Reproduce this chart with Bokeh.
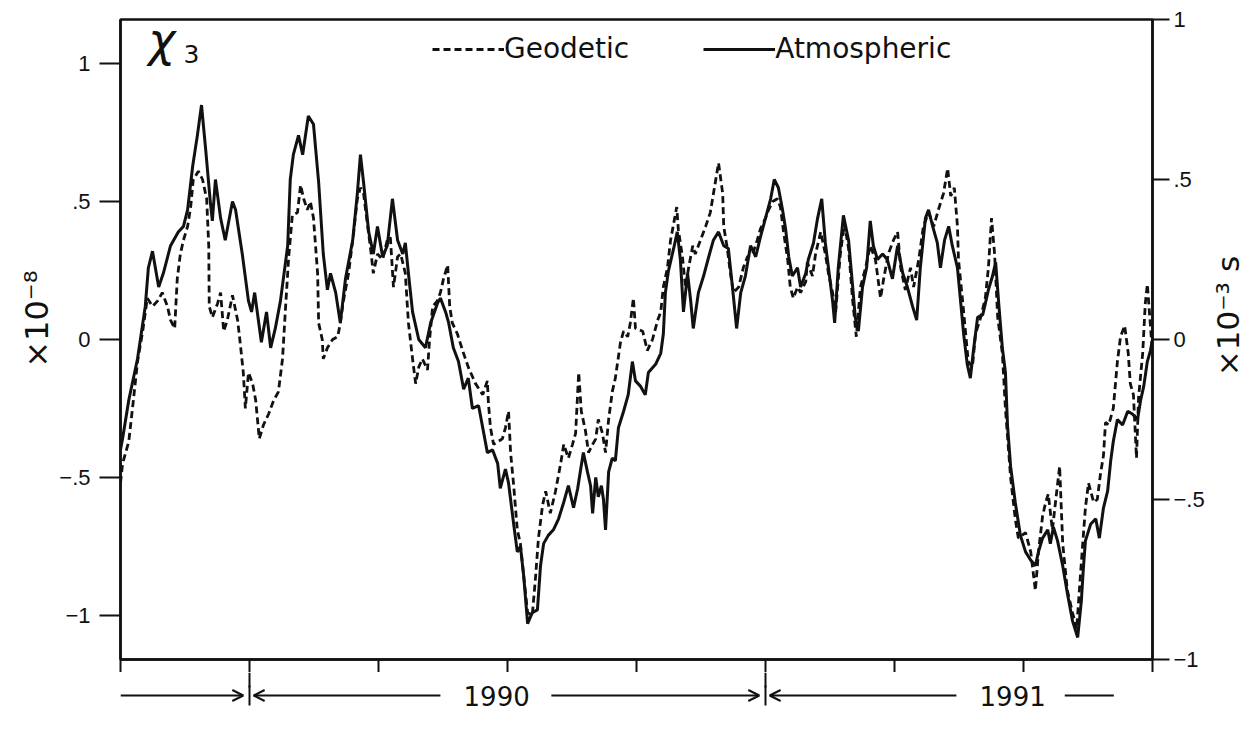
import math
from bokeh.plotting import figure
from bokeh.models import (Range1d, LinearAxis, FixedTicker, Legend, LegendItem,
                          Label, Arrow, OpenHead)
from bokeh.layouts import column, row
from bokeh.core.properties import value
from bokeh.embed import file_html
from bokeh.resources import INLINE

# ---------------- data (decimal years) ----------------
atm_t = [
    1989.750, 1989.754, 1989.766, 1989.783, 1989.798, 1989.804, 1989.812, 1989.824, 1989.833, 1989.847,
    1989.862, 1989.872, 1989.880, 1989.890, 1989.899, 1989.907, 1989.915, 1989.924, 1989.928, 1989.934,
    1989.944, 1989.953, 1989.967, 1989.973, 1989.986, 1989.998, 1990.004, 1990.010, 1990.023, 1990.033,
    1990.041, 1990.050, 1990.060, 1990.074, 1990.079, 1990.085, 1990.095, 1990.103, 1990.114, 1990.124,
    1990.134, 1990.143, 1990.151, 1990.157, 1990.167, 1990.176, 1990.186, 1990.200, 1990.209, 1990.215,
    1990.221, 1990.231, 1990.240, 1990.248, 1990.258, 1990.267, 1990.277, 1990.287, 1990.297, 1990.302,
    1990.308, 1990.316, 1990.328, 1990.341, 1990.351, 1990.364, 1990.370, 1990.380, 1990.386, 1990.395,
    1990.405, 1990.415, 1990.424, 1990.432, 1990.444, 1990.452, 1990.461, 1990.471, 1990.481, 1990.486,
    1990.496, 1990.502, 1990.512, 1990.519, 1990.525, 1990.531, 1990.539, 1990.548, 1990.558, 1990.564,
    1990.570, 1990.579, 1990.589, 1990.599, 1990.609, 1990.618, 1990.628, 1990.636, 1990.641, 1990.647,
    1990.655, 1990.661, 1990.665, 1990.671, 1990.676, 1990.682, 1990.686, 1990.690, 1990.696, 1990.703,
    1990.709, 1990.715, 1990.725, 1990.734, 1990.742, 1990.748, 1990.758, 1990.767, 1990.773, 1990.787,
    1990.797, 1990.802, 1990.806, 1990.812, 1990.822, 1990.829, 1990.835, 1990.841, 1990.849, 1990.855,
    1990.860, 1990.870, 1990.880, 1990.890, 1990.899, 1990.909, 1990.919, 1990.928, 1990.936, 1990.944,
    1990.952, 1990.961, 1990.971, 1990.981, 1990.990, 1991.000, 1991.010, 1991.017, 1991.025, 1991.033,
    1991.039, 1991.045, 1991.052, 1991.062, 1991.068, 1991.078, 1991.083, 1991.093, 1991.101, 1991.109,
    1991.116, 1991.122, 1991.130, 1991.134, 1991.141, 1991.151, 1991.161, 1991.169, 1991.174, 1991.180,
    1991.188, 1991.196, 1991.203, 1991.209, 1991.217, 1991.227, 1991.236, 1991.246, 1991.256, 1991.266,
    1991.275, 1991.285, 1991.293, 1991.300, 1991.310, 1991.316, 1991.324, 1991.333, 1991.339, 1991.347,
    1991.355, 1991.362, 1991.372, 1991.378, 1991.384, 1991.391, 1991.397, 1991.403, 1991.411, 1991.421,
    1991.426, 1991.432, 1991.440, 1991.446, 1991.452, 1991.459, 1991.465, 1991.469, 1991.475, 1991.484,
    1991.494, 1991.504, 1991.514, 1991.523, 1991.529, 1991.537, 1991.547, 1991.552, 1991.558, 1991.566,
    1991.576, 1991.585, 1991.595, 1991.605, 1991.612, 1991.616, 1991.620, 1991.630, 1991.640, 1991.647,
    1991.655, 1991.663, 1991.669, 1991.674, 1991.682, 1991.692, 1991.702, 1991.711, 1991.721, 1991.727,
    1991.733, 1991.740, 1991.746, 1991.750,
]
atm_v = [
    -0.40, -0.36, -0.22, -0.07, 0.12, 0.26, 0.32, 0.19, 0.24, 0.34,
    0.39, 0.41, 0.47, 0.63, 0.74, 0.85, 0.69, 0.50, 0.43, 0.58,
    0.44, 0.36, 0.50, 0.47, 0.31, 0.14, 0.10, 0.17, -0.01, 0.10,
    -0.03, 0.04, 0.14, 0.34, 0.58, 0.67, 0.74, 0.67, 0.81, 0.78,
    0.57, 0.31, 0.18, 0.24, 0.17, 0.06, 0.22, 0.36, 0.53, 0.67,
    0.57, 0.39, 0.31, 0.41, 0.30, 0.34, 0.51, 0.36, 0.31, 0.35,
    0.24, 0.10, 0.00, -0.03, 0.06, 0.13, 0.15, 0.10, 0.06, -0.03,
    -0.08, -0.18, -0.14, -0.25, -0.24, -0.32, -0.41, -0.40, -0.45, -0.54,
    -0.47, -0.52, -0.67, -0.77, -0.75, -0.85, -1.03, -0.99, -0.98, -0.82,
    -0.74, -0.71, -0.69, -0.65, -0.59, -0.53, -0.61, -0.54, -0.48, -0.41,
    -0.48, -0.53, -0.63, -0.50, -0.57, -0.53, -0.58, -0.69, -0.48, -0.43,
    -0.44, -0.32, -0.26, -0.20, -0.08, -0.15, -0.17, -0.20, -0.12, -0.09,
    -0.05, 0.02, 0.17, 0.25, 0.33, 0.39, 0.29, 0.10, 0.24, 0.14,
    0.04, 0.17, 0.23, 0.30, 0.36, 0.39, 0.34, 0.33, 0.19, 0.04,
    0.17, 0.23, 0.34, 0.30, 0.37, 0.44, 0.51, 0.58, 0.55, 0.47,
    0.40, 0.30, 0.23, 0.26, 0.19, 0.24, 0.29, 0.35, 0.44, 0.51,
    0.35, 0.26, 0.14, 0.06, 0.26, 0.45, 0.36, 0.19, 0.08, 0.03,
    0.19, 0.26, 0.43, 0.34, 0.29, 0.31, 0.29, 0.22, 0.34, 0.24,
    0.19, 0.12, 0.07, 0.26, 0.44, 0.47, 0.41, 0.35, 0.26, 0.36,
    0.41, 0.34, 0.26, 0.14, 0.02, -0.09, -0.14, -0.04, 0.08, 0.09,
    0.13, 0.18, 0.23, 0.28, 0.13, -0.03, -0.12, -0.31, -0.46, -0.59,
    -0.71, -0.77, -0.80, -0.82, -0.77, -0.72, -0.69, -0.74, -0.68, -0.73,
    -0.82, -0.92, -1.02, -1.08, -0.95, -0.83, -0.73, -0.67, -0.65, -0.72,
    -0.61, -0.55, -0.44, -0.37, -0.29, -0.31, -0.26, -0.27, -0.29, -0.22,
    -0.17, -0.08, -0.04, 0.00,
]

geo_t = [
    1989.750, 1989.754, 1989.766, 1989.775, 1989.783, 1989.793, 1989.802, 1989.812, 1989.822, 1989.831,
    1989.841, 1989.847, 1989.855, 1989.860, 1989.866, 1989.872, 1989.880, 1989.886, 1989.891, 1989.901,
    1989.909, 1989.917, 1989.921, 1989.922, 1989.928, 1989.938, 1989.944, 1989.950, 1989.957, 1989.967,
    1989.977, 1989.983, 1989.988, 1989.992, 1989.998, 1990.006, 1990.012, 1990.019, 1990.027, 1990.037,
    1990.047, 1990.056, 1990.064, 1990.070, 1990.076, 1990.083, 1990.093, 1990.099, 1990.105, 1990.112,
    1990.118, 1990.124, 1990.132, 1990.134, 1990.141, 1990.143, 1990.151, 1990.161, 1990.171, 1990.176,
    1990.182, 1990.192, 1990.202, 1990.209, 1990.215, 1990.221, 1990.229, 1990.234, 1990.240, 1990.248,
    1990.258, 1990.267, 1990.273, 1990.279, 1990.287, 1990.293, 1990.302, 1990.308, 1990.316, 1990.322,
    1990.328, 1990.335, 1990.345, 1990.349, 1990.355, 1990.364, 1990.370, 1990.376, 1990.384, 1990.388,
    1990.393, 1990.403, 1990.413, 1990.424, 1990.438, 1990.452, 1990.461, 1990.463, 1990.467, 1990.473,
    1990.490, 1990.496, 1990.502, 1990.506, 1990.512, 1990.519, 1990.525, 1990.531, 1990.539, 1990.548,
    1990.554, 1990.560, 1990.568, 1990.574, 1990.583, 1990.593, 1990.603, 1990.609, 1990.618, 1990.626,
    1990.632, 1990.638, 1990.643, 1990.651, 1990.657, 1990.665, 1990.671, 1990.676, 1990.684, 1990.690,
    1990.696, 1990.703, 1990.709, 1990.719, 1990.725, 1990.733, 1990.738, 1990.744, 1990.748, 1990.762,
    1990.771, 1990.781, 1990.791, 1990.797, 1990.802, 1990.810, 1990.816, 1990.822, 1990.828, 1990.831,
    1990.839, 1990.845, 1990.851, 1990.859, 1990.864, 1990.874, 1990.884, 1990.893, 1990.901, 1990.909,
    1990.917, 1990.919, 1990.926, 1990.932, 1990.938, 1990.948, 1990.957, 1990.965, 1990.975, 1990.984,
    1990.990, 1991.000, 1991.006, 1991.014, 1991.023, 1991.029, 1991.035, 1991.043, 1991.048, 1991.054,
    1991.062, 1991.068, 1991.078, 1991.081, 1991.091, 1991.097, 1991.107, 1991.116, 1991.122, 1991.130,
    1991.136, 1991.145, 1991.153, 1991.161, 1991.169, 1991.176, 1991.184, 1991.194, 1991.203, 1991.213,
    1991.223, 1991.229, 1991.238, 1991.248, 1991.256, 1991.262, 1991.271, 1991.281, 1991.287, 1991.297,
    1991.306, 1991.316, 1991.326, 1991.335, 1991.345, 1991.353, 1991.359, 1991.366, 1991.372, 1991.374,
    1991.382, 1991.388, 1991.393, 1991.401, 1991.407, 1991.417, 1991.426, 1991.432, 1991.438, 1991.444,
    1991.450, 1991.459, 1991.465, 1991.475, 1991.484, 1991.490, 1991.504, 1991.514, 1991.523, 1991.529,
    1991.537, 1991.543, 1991.548, 1991.556, 1991.562, 1991.570, 1991.576, 1991.585, 1991.595, 1991.603,
    1991.609, 1991.614, 1991.620, 1991.626, 1991.636, 1991.643, 1991.649, 1991.655, 1991.659, 1991.665,
    1991.674, 1991.682, 1991.688, 1991.696, 1991.703, 1991.707, 1991.713, 1991.719, 1991.723, 1991.731,
    1991.736, 1991.740, 1991.746, 1991.750,
]
geo_v = [
    -0.52, -0.45, -0.37, -0.22, -0.08, 0.03, 0.15, 0.12, 0.14, 0.17,
    0.12, 0.07, 0.04, 0.22, 0.31, 0.36, 0.41, 0.48, 0.58, 0.61,
    0.58, 0.51, 0.34, 0.12, 0.08, 0.13, 0.17, 0.03, 0.07, 0.16,
    0.07, -0.03, -0.12, -0.25, -0.12, -0.16, -0.22, -0.36, -0.31, -0.27,
    -0.22, -0.19, -0.07, 0.12, 0.30, 0.45, 0.46, 0.56, 0.51, 0.47,
    0.50, 0.44, 0.24, 0.06, 0.00, -0.07, -0.03, 0.00, 0.01, 0.06,
    0.14, 0.24, 0.39, 0.51, 0.55, 0.53, 0.41, 0.34, 0.24, 0.31,
    0.29, 0.36, 0.37, 0.19, 0.30, 0.31, 0.24, 0.06, -0.07, -0.16,
    -0.10, -0.07, -0.11, 0.00, 0.12, 0.14, 0.17, 0.22, 0.27, 0.12,
    0.06, 0.02, -0.04, -0.10, -0.16, -0.20, -0.15, -0.23, -0.32, -0.38,
    -0.36, -0.32, -0.26, -0.41, -0.53, -0.69, -0.74, -0.85, -0.99, -1.00,
    -0.87, -0.72, -0.60, -0.55, -0.63, -0.55, -0.45, -0.38, -0.43, -0.38,
    -0.34, -0.12, -0.26, -0.33, -0.41, -0.38, -0.36, -0.29, -0.34, -0.41,
    -0.29, -0.19, -0.14, -0.01, 0.03, 0.01, 0.06, 0.15, 0.04, 0.03,
    -0.04, 0.00, 0.07, 0.10, 0.19, 0.26, 0.36, 0.42, 0.48, 0.40,
    0.30, 0.19, 0.26, 0.34, 0.31, 0.36, 0.41, 0.46, 0.55, 0.64,
    0.53, 0.41, 0.33, 0.24, 0.17, 0.19, 0.26, 0.30, 0.31, 0.36,
    0.40, 0.44, 0.47, 0.50, 0.51, 0.48, 0.39, 0.29, 0.19, 0.15,
    0.19, 0.17, 0.21, 0.28, 0.23, 0.31, 0.39, 0.31, 0.24, 0.17,
    0.10, 0.31, 0.42, 0.33, 0.14, 0.01, 0.19, 0.26, 0.34, 0.29,
    0.15, 0.22, 0.31, 0.36, 0.39, 0.26, 0.18, 0.26, 0.19, 0.29,
    0.41, 0.46, 0.41, 0.47, 0.53, 0.62, 0.52, 0.55, 0.41, 0.29,
    0.14, 0.02, -0.08, -0.10, 0.02, 0.08, 0.15, 0.26, 0.44, 0.31,
    0.08, -0.05, -0.25, -0.50, -0.65, -0.72, -0.70, -0.77, -0.91, -0.77,
    -0.64, -0.59, -0.56, -0.69, -0.59, -0.46, -0.74, -0.91, -0.99, -1.05,
    -0.89, -0.76, -0.61, -0.52, -0.59, -0.58, -0.49, -0.42, -0.30, -0.31,
    -0.25, -0.08, 0.01, 0.05, -0.05, -0.16, -0.20, -0.43, -0.21, -0.05,
    0.13, 0.20, 0.05, -0.05,
]

left_ticks = [-1.0, -0.5, 0.0, 0.5, 1.0]
left_labels = ["\u22121", "\u2212.5", "0", ".5", "1"]
right_ticks = [-1.0, -0.5, 0.0, 0.5, 1.0]
right_labels = ["\u22121", "\u2212.5", "0", ".5", "1"]
year_ticks = [1990.0, 1991.0]
quarter_ticks = [1989.75, 1990.25, 1990.5, 1990.75, 1991.25, 1991.5, 1991.75]
year_labels = ["1990", "1991"]
series_names = ["Geodetic", "Atmospheric"]
left_unit = "\u00d710\u207b\u2078"
right_unit = "\u00d710\u207b\u00b3 s"

assert len(atm_t) == len(atm_v) and len(geo_t) == len(geo_v)

INK = "#111111"
TICK_FONT = "Liberation Sans"
TEXT_FONT = "DejaVu Sans"
X0, X1 = 1989.75, 1991.75
FRAME_W, FRAME_H = 1032, 640
LEFT_B, RIGHT_B, TOP_B = 120, 58, 19
SHORT_TICK = 13          # px, quarter ticks (and upper part of the year ticks)
STRIP_H = 736 - TOP_B - FRAME_H - SHORT_TICK
UNIT_W = 1254 - LEFT_B - FRAME_W - RIGHT_B
NB = "\u00a0"

# ---------------- main plot ----------------
p = figure(frame_width=FRAME_W, frame_height=FRAME_H,
           min_border_left=LEFT_B, min_border_right=RIGHT_B, min_border_top=TOP_B,
           min_border_bottom=SHORT_TICK,
           x_range=Range1d(X0, X1), y_range=Range1d(-1.16, 1.16),
           output_backend="svg", toolbar_location=None)
p.extra_y_ranges = {"sec": Range1d(-1.0, 1.0)}
p.grid.visible = False
p.outline_line_color = INK
p.outline_line_width = 2.5
p.outline_line_alpha = 1.0
p.background_fill_color = "white"
p.border_fill_color = "white"

geo_r = p.line(geo_t, geo_v, line_color=INK, line_width=2.8, line_dash="7 4")
atm_r = p.line(atm_t, atm_v, line_color=INK, line_width=3.0)

# bottom axis: ticks at every quarter, year ticks continue in the strip below
xa = p.xaxis[0]
xa.ticker = FixedTicker(ticks=year_ticks, minor_ticks=quarter_ticks)
xa.major_label_overrides = {t: "" for t in year_ticks}
xa.major_label_text_font_size = "1px"
xa.major_label_standoff = 0
xa.major_tick_out = SHORT_TICK
xa.major_tick_in = 0
xa.minor_tick_out = SHORT_TICK
xa.minor_tick_in = 0
xa.major_tick_line_width = 2
xa.minor_tick_line_width = 2
xa.axis_line_width = 2.5
xa.axis_line_color = INK
xa.major_tick_line_color = INK
xa.minor_tick_line_color = INK

# left axis
ya = p.yaxis[0]
ya.ticker = FixedTicker(ticks=left_ticks)
ya.major_label_overrides = dict(zip(left_ticks, left_labels))
ya.major_tick_out = 21
ya.major_tick_in = 0
ya.major_tick_line_width = 2
ya.major_label_standoff = 9
ya.major_label_text_font = TICK_FONT
ya.major_label_text_font_size = "22px"
ya.major_label_text_color = INK
ya.axis_line_width = 2.5
ya.axis_line_color = INK
ya.major_tick_line_color = INK
ya.axis_label = NB * 4 + left_unit          # lead spaces lift the centred label a little
ya.axis_label_text_font = TEXT_FONT
ya.axis_label_text_font_size = "32px"
ya.axis_label_text_font_style = "normal"
ya.axis_label_text_color = INK
ya.axis_label_standoff = 0

# right axis (seconds)
ra = LinearAxis(y_range_name="sec", ticker=FixedTicker(ticks=right_ticks))
ra.major_label_overrides = dict(zip(right_ticks, right_labels))
ra.major_tick_out = 17
ra.major_tick_in = 0
ra.major_tick_line_width = 2
ra.major_label_standoff = 4
ra.major_label_text_font = TICK_FONT
ra.major_label_text_font_size = "22px"
ra.major_label_text_color = INK
ra.axis_line_width = 2.5
ra.axis_line_color = INK
ra.major_tick_line_color = INK
p.add_layout(ra, "right")

# legend
leg = Legend(items=[LegendItem(label=series_names[0], renderers=[geo_r]),
                    LegendItem(label=series_names[1], renderers=[atm_r])],
             location=(312, 594), orientation="horizontal",
             padding=0, margin=0, spacing=74, glyph_width=72, glyph_height=24,
             label_standoff=0, label_text_font=TEXT_FONT, label_text_font_size="28px",
             label_text_color=INK, background_fill_alpha=0, border_line_alpha=0)
p.add_layout(leg)

# chi_3 title
p.add_layout(Label(x=1989.804, y=1.085, text="\u03c7", text_font=TEXT_FONT,
                   text_font_size="46px", text_font_style="italic",
                   text_baseline="alphabetic", text_color=INK))
p.add_layout(Label(x=1989.872, y=1.035, text="3", text_font=TEXT_FONT,
                   text_font_size="25px", text_baseline="alphabetic", text_color=INK))

# ---------------- year strip below (y = px below the x axis line) ----------------
p2 = figure(frame_width=FRAME_W, frame_height=STRIP_H,
            min_border_left=LEFT_B, min_border_right=RIGHT_B, min_border_top=0, min_border_bottom=0,
            x_range=p.x_range, y_range=Range1d(SHORT_TICK + STRIP_H, SHORT_TICK),
            x_axis_location=None, y_axis_location=None,
            output_backend="svg", toolbar_location=None)
p2.outline_line_color = None
p2.background_fill_color = "white"
p2.border_fill_color = "white"
p2.grid.visible = False

YEAR_TICK_END = 28      # year ticks are longer than the quarter ticks
ROW = 36                # centre line of the arrow / year row
BAR = 10                # half height of the |  bars

def head():
    return OpenHead(size=11, line_width=2, line_color=INK)

arrows = [
    (X0, year_ticks[0] - 0.012, True),
    (year_ticks[0] + 0.37, year_ticks[0] + 0.008, True),
    (year_ticks[0] + 0.585, year_ticks[1] - 0.012, True),
    (year_ticks[1] + 0.37, year_ticks[1] + 0.008, True),
    (year_ticks[1] + 0.58, year_ticks[1] + 0.675, False),
]
for xs, xe, has_head in arrows:
    p2.add_layout(Arrow(x_start=xs, y_start=ROW, x_end=xe, y_end=ROW,
                        end=head() if has_head else None,
                        line_width=2, line_color=INK))
p2.segment(x0=year_ticks, y0=[SHORT_TICK] * 2, x1=year_ticks, y1=[YEAR_TICK_END] * 2,
           line_width=2, line_color=INK)
p2.segment(x0=year_ticks, y0=[ROW - BAR] * 2, x1=year_ticks, y1=[ROW + BAR] * 2,
           line_width=2, line_color=INK)
p2.text(x=[y + 0.479 for y in year_ticks], y=[ROW] * 2, text=year_labels,
        text_align="center", text_baseline="middle",
        text_font=value(TEXT_FONT), text_font_size="26px", text_color=INK)

# ---------------- right unit label (reads bottom-to-top, like the left one) ----------------
p3 = figure(frame_width=UNIT_W, frame_height=FRAME_H,
            min_border_left=0, min_border_right=0, min_border_top=TOP_B,
            min_border_bottom=SHORT_TICK + STRIP_H,
            x_range=Range1d(0, 1), y_range=p.y_range,
            x_axis_location=None, y_axis_location=None,
            output_backend="svg", toolbar_location=None)
p3.outline_line_color = None
p3.background_fill_color = "white"
p3.border_fill_color = "white"
p3.grid.visible = False
p3.text(x=[0.4], y=[0.085], text=[right_unit], angle=math.pi / 2,
        text_align="center", text_baseline="middle",
        text_font=value(TEXT_FONT), text_font_size="31px", text_color=INK)

layout = row(column(p, p2, spacing=0), p3, spacing=0)
open("out.html", "w").write(file_html(layout, INLINE))
